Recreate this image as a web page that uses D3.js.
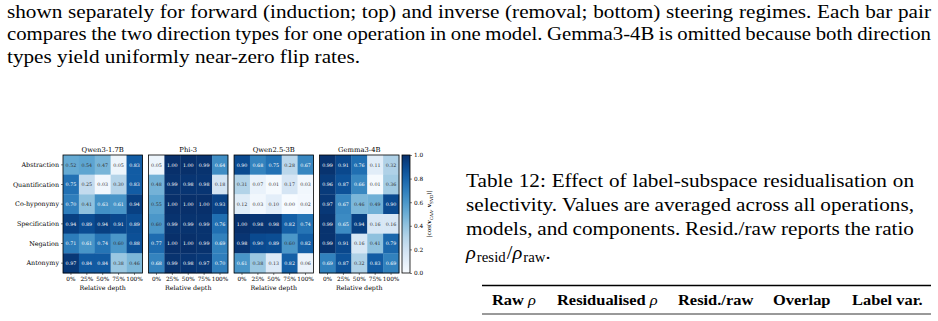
<!DOCTYPE html>
<html>
<head>
<meta charset="utf-8">
<script src="https://cdn.jsdelivr.net/npm/d3@7"></script>
<style>
  body { margin: 0; background: #fff; width: 938px; height: 321px; overflow: hidden; }
</style>
</head>
<body>
<script>
const models = ["Qwen3-1.7B", "Phi-3", "Qwen2.5-3B", "Gemma3-4B"];
const operations = ["Abstraction", "Quantification", "Co-hyponymy", "Specification", "Negation", "Antonymy"];
const depths = ["0%", "25%", "50%", "75%", "100%"];

// |cos| values, rows = operations, columns = depths
const qwen3Vals = [
  [0.52, 0.54, 0.47, 0.05, 0.83],
  [0.75, 0.25, 0.03, 0.30, 0.83],
  [0.70, 0.41, 0.63, 0.61, 0.94],
  [0.94, 0.89, 0.94, 0.91, 0.89],
  [0.71, 0.61, 0.74, 0.60, 0.88],
  [0.97, 0.84, 0.84, 0.38, 0.46]
];
const phi3Vals = [
  [0.05, 1.00, 1.00, 0.99, 0.64],
  [0.48, 0.99, 0.98, 0.98, 0.18],
  [0.55, 1.00, 1.00, 1.00, 0.93],
  [0.60, 0.99, 0.99, 0.99, 0.76],
  [0.77, 1.00, 1.00, 0.99, 0.69],
  [0.68, 0.99, 0.98, 0.97, 0.70]
];
const qwen25Vals = [
  [0.90, 0.68, 0.75, 0.28, 0.67],
  [0.31, 0.07, 0.01, 0.17, 0.03],
  [0.12, 0.03, 0.10, 0.00, 0.02],
  [1.00, 0.98, 0.98, 0.82, 0.74],
  [0.98, 0.90, 0.89, 0.60, 0.82],
  [0.61, 0.38, 0.13, 0.82, 0.06]
];
const gemmaVals = [
  [0.99, 0.91, 0.76, 0.11, 0.32],
  [0.96, 0.87, 0.66, 0.01, 0.36],
  [0.97, 0.67, 0.46, 0.49, 0.90],
  [0.99, 0.65, 0.94, 0.16, 0.16],
  [0.99, 0.91, 0.16, 0.41, 0.79],
  [0.69, 0.87, 0.32, 0.83, 0.69]
];
const cbTicks = [0, 0.2, 0.4, 0.6, 0.8, 1.0];
const tableHeaders = ["Raw ρ", "Residualised ρ", "Resid./raw", "Overlap", "Label var."];

const panelVals = [qwen3Vals, phi3Vals, qwen25Vals, gemmaVals];

const svg = d3.select("body").append("svg").attr("width", 938).attr("height", 321);
const pageFont = "'Liberation Serif', 'Times New Roman', 'DejaVu Serif', serif";
const figFont = "'DejaVu Serif', serif";
const pageSize = 19.3, stretch = 1.1;   // page text is a little wider than plain Times

// widen a text node horizontally by a factor, without a transform
function widen(sel, k) {
  const w = sel.node().getComputedTextLength();
  sel.attr("textLength", w * k).attr("lengthAdjust", "spacingAndGlyphs");
  return w * k;
}

// one line of body text, optionally justified by spreading the words
function textLine(str, x, y, width, justify) {
  const g = svg.append("g").attr("font-family", pageFont).attr("font-size", pageSize);
  if (!justify) {
    widen(g.append("text").attr("x", x).attr("y", y).text(str), stretch);
    return;
  }
  const words = str.split(/\s+/);
  const nodes = words.map(word => g.append("text").attr("y", y).text(word));
  const widths = nodes.map(n => n.node().getComputedTextLength());
  const space = pageSize * 0.22;
  const natural = d3.sum(widths) + space * (words.length - 1);
  const k = Math.min(stretch, width / natural);
  const gap = (width - k * d3.sum(widths)) / (words.length - 1);
  let cx = x;
  nodes.forEach((n, i) => {
    n.attr("x", cx).attr("textLength", widths[i] * k).attr("lengthAdjust", "spacingAndGlyphs");
    cx += widths[i] * k + gap;
  });
}

// paragraph above the figure
const para = [
  ["shown separately for forward (induction; top) and inverse (removal; bottom) steering regimes.  Each bar pair", true],
  ["compares the two direction types for one operation in one model. Gemma3-4B is omitted because both direction", true],
  ["types yield uniformly near-zero flip rates.", false]
];
para.forEach((p, i) => textLine(p[0], 7, 17.5 + i * 22.5, 924, p[1]));

const panelH = 118, topY = 155;
const panelX = d3.scaleBand().domain(models).range([63, 63 + 84 * 4]).paddingInner(6 / 84);
const color = d3.scaleSequential(d3.interpolateBlues).domain([0, 1]);

models.forEach((m, mi) => {
  const g = svg.append("g").attr("transform", `translate(${panelX(m)},${topY})`);
  const x = d3.scaleBand().domain(depths).range([0, panelX.bandwidth()]);
  const y = d3.scaleBand().domain(operations).range([0, panelH]);
  const cells = [];
  panelVals[mi].forEach((row, r) => row.forEach((v, c) => cells.push({ op: operations[r], d: depths[c], v })));

  g.selectAll("rect.cell").data(cells).enter().append("rect")
    .attr("class", "cell")
    .attr("x", d => x(d.d)).attr("y", d => y(d.op))
    .attr("width", x.bandwidth() + 0.3).attr("height", y.bandwidth() + 0.3)
    .attr("fill", d => color(d.v));

  g.selectAll("text.val").data(cells).enter().append("text")
    .attr("class", "val")
    .attr("x", d => x(d.d) + x.bandwidth() / 2)
    .attr("y", d => y(d.op) + y.bandwidth() / 2)
    .attr("dy", "0.35em")
    .attr("text-anchor", "middle")
    .attr("font-family", figFont).attr("font-size", 4.8)
    .attr("fill", d => d.v > 0.6 ? "#fff" : "#333")
    .text(d => d.v.toFixed(2));

  g.append("rect").attr("width", panelX.bandwidth()).attr("height", panelH)
    .attr("fill", "none").attr("stroke", "#000").attr("stroke-width", 0.8);

  const xa = g.append("g").attr("transform", `translate(0,${panelH})`)
    .call(d3.axisBottom(x).tickSize(2).tickPadding(1.5));
  xa.select(".domain").remove();
  xa.selectAll("text").attr("font-family", figFont).attr("font-size", 5.8).attr("fill", "#000");
  xa.selectAll("line").attr("stroke-width", 0.5);

  g.append("text").attr("x", panelX.bandwidth() / 2).attr("y", panelH + 16.5)
    .attr("text-anchor", "middle").attr("font-family", figFont).attr("font-size", 6.3)
    .text("Relative depth");

  g.append("text").attr("x", panelX.bandwidth() / 2).attr("y", -3)
    .attr("text-anchor", "middle").attr("font-family", figFont).attr("font-size", 6.8)
    .text(m);

  if (mi === 0) {
    const ya = g.append("g").call(d3.axisLeft(y).tickSize(2).tickPadding(2));
    ya.select(".domain").remove();
    ya.selectAll("text").attr("font-family", figFont).attr("font-size", 6.4).attr("fill", "#000");
    ya.selectAll("line").attr("stroke-width", 0.5);
  }
});

// colorbar
const cbX = 402, cbW = 8;
const grad = svg.append("defs").append("linearGradient").attr("id", "cbgrad")
  .attr("x1", 0).attr("y1", 1).attr("x2", 0).attr("y2", 0);
d3.range(0, 1.001, 0.1).forEach(t => grad.append("stop").attr("offset", t).attr("stop-color", color(t)));
svg.append("rect").attr("x", cbX).attr("y", topY).attr("width", cbW).attr("height", panelH)
  .attr("fill", "url(#cbgrad)").attr("stroke", "#000").attr("stroke-width", 0.8);
const cbScale = d3.scaleLinear().domain([0, 1]).range([topY + panelH, topY]);
const cba = svg.append("g").attr("transform", `translate(${cbX + cbW},0)`)
  .call(d3.axisRight(cbScale).tickValues(cbTicks).tickFormat(d3.format(".1f")).tickSize(2).tickPadding(2));
cba.select(".domain").remove();
cba.selectAll("text").attr("font-family", figFont).attr("font-size", 5.8).attr("fill", "#000");
cba.selectAll("line").attr("stroke-width", 0.5);
const cbl = svg.append("text").attr("transform", `translate(${cbX + cbW + 21},${topY + panelH / 2}) rotate(-90)`)
  .attr("text-anchor", "middle").attr("font-family", figFont).attr("font-size", 5.8);
cbl.append("tspan").text("|cos(");
cbl.append("tspan").attr("font-weight", "bold").text("v");
cbl.append("tspan").attr("font-size", 4.2).attr("dy", 1.5).text("CAA");
cbl.append("tspan").attr("dy", -1.5).text(", ");
cbl.append("tspan").attr("font-weight", "bold").text("v");
cbl.append("tspan").attr("font-size", 4.2).attr("dy", 1.5).text("SVD");
cbl.append("tspan").attr("dy", -1.5).text(")|");

// table caption
const cap = [
  "Table 12: Effect of label-subspace residualisation on",
  "selectivity.  Values are averaged across all operations,",
  "models, and components. Resid./raw reports the ratio"
];
cap.forEach((t, i) => textLine(t, 466, 187 + i * 24, 448, true));
const math = svg.append("text").attr("x", 466).attr("y", 187 + 3 * 24)
  .attr("font-family", pageFont).attr("font-size", pageSize);
math.append("tspan").attr("font-style", "italic").text("ρ");
math.append("tspan").attr("font-size", 14).attr("dy", 3).attr("dx", 1).text("resid");
math.append("tspan").attr("dy", -3).attr("dx", 1).text("/");
math.append("tspan").attr("font-style", "italic").text("ρ");
math.append("tspan").attr("font-size", 14).attr("dy", 3).attr("dx", 1).text("raw");
math.append("tspan").attr("dy", -3).text(".");
widen(math, stretch);

// table header with rules
svg.append("line").attr("x1", 482).attr("x2", 931).attr("y1", 285.5).attr("y2", 285.5)
  .attr("stroke", "#000").attr("stroke-width", 1.3);
svg.append("line").attr("x1", 482).attr("x2", 931).attr("y1", 314).attr("y2", 314)
  .attr("stroke", "#000").attr("stroke-width", 0.8);
const headX = [492, 557, 678, 773, 852];
tableHeaders.forEach((h, i) => {
  const t = svg.append("text").attr("x", headX[i]).attr("y", 305)
    .attr("font-family", pageFont).attr("font-size", 15.5).attr("font-weight", "bold");
  if (h.endsWith("ρ")) {
    t.append("tspan").text(h.slice(0, -1));
    t.append("tspan").attr("font-weight", "normal").attr("font-style", "italic").text("ρ");
  } else {
    t.text(h);
  }
  widen(t, 1.06);
});
</script>
</body>
</html>
